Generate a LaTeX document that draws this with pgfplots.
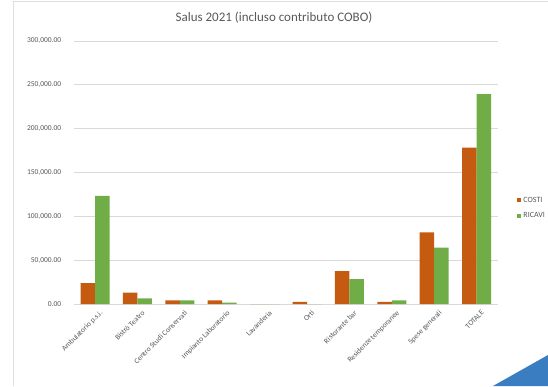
\documentclass[border=0pt]{standalone}
\usepackage{fontspec}
\setmainfont{Carlito}
\usepackage{pgfplots}
\pgfplotsset{compat=1.18}
\definecolor{costi}{RGB}{197,90,17}
\definecolor{ricavi}{RGB}{112,173,71}
\definecolor{gridc}{RGB}{217,217,217}
\definecolor{txt}{RGB}{89,89,89}
\definecolor{tri}{RGB}{59,125,193}
\begin{document}
\begin{tikzpicture}[x=1pt,y=1pt]
\useasboundingbox (0,0) rectangle (548,386);
\fill[white] (0,0) rectangle (548,386);
\draw[gray!25,line width=0.8pt] (13,0) -- (13,385) -- (548,385);
\begin{axis}[
  at={(73.8pt,82pt)}, anchor=south west,
  scale only axis, width=424pt, height=263pt,
  xmin=-0.5, xmax=9.5, ymin=0, ymax=300000,
  enlargelimits=false,
  ybar=0pt, bar width=14.5pt,
  axis line style={draw=none},
  major tick length=0pt,
  ymajorgrids, grid style={gridc, line width=0.8pt},
  ytick={0,50000,100000,150000,200000,250000,300000},
  scaled y ticks=false,
  /pgf/number format/fixed,
  /pgf/number format/fixed zerofill,
  /pgf/number format/precision=2,
  /pgf/number format/1000 sep={,},
  /pgf/number format/assume math mode=true,
  yticklabel style={font=\fontsize{7.5}{8}\selectfont, text=txt, xshift=-9pt},
  xtick={0,...,9},
  xticklabels={Ambulatorio p.s.i., Bistrò Teatro, Centro Studi Conservati, Impianto Laboratorio, Lavanderia, Orti, Ristorante bar, Residenze temporanee, Spese generali, TOTALE},
  xticklabel style={rotate=45, anchor=north east, font=\fontsize{7.5}{8}\selectfont, text=txt, yshift=-6pt, inner sep=1pt},
  legend style={at={(1.045,0.365)}, anchor=west, draw=none, fill=none, font=\fontsize{8}{9}\selectfont, text=txt, row sep=5pt, inner sep=0pt},
  legend cell align=left,
  legend image code/.code={\fill[#1,draw=none] (0pt,-2.2pt) rectangle (4.4pt,2.2pt);},
]
\addplot[fill=costi, draw=none] coordinates {(0,23950) (1,12900) (2,4200) (3,4200) (4,0) (5,2300) (6,37600) (7,2300) (8,81800) (9,178300)};
\addplot[fill=ricavi, draw=none] coordinates {(0,123200) (1,6500) (2,4200) (3,1500) (4,0) (5,0) (6,28500) (7,4200) (8,64200) (9,239500)};
\legend{COSTI, RICAVI}
\end{axis}
\node[font=\fontsize{13}{15}\selectfont, text=txt] at (274,368) {Salus 2021 (incluso contributo COBO)};
\fill[tri] (493,0) -- (548,0) -- (548,31) -- cycle;
\end{tikzpicture}
\end{document}
